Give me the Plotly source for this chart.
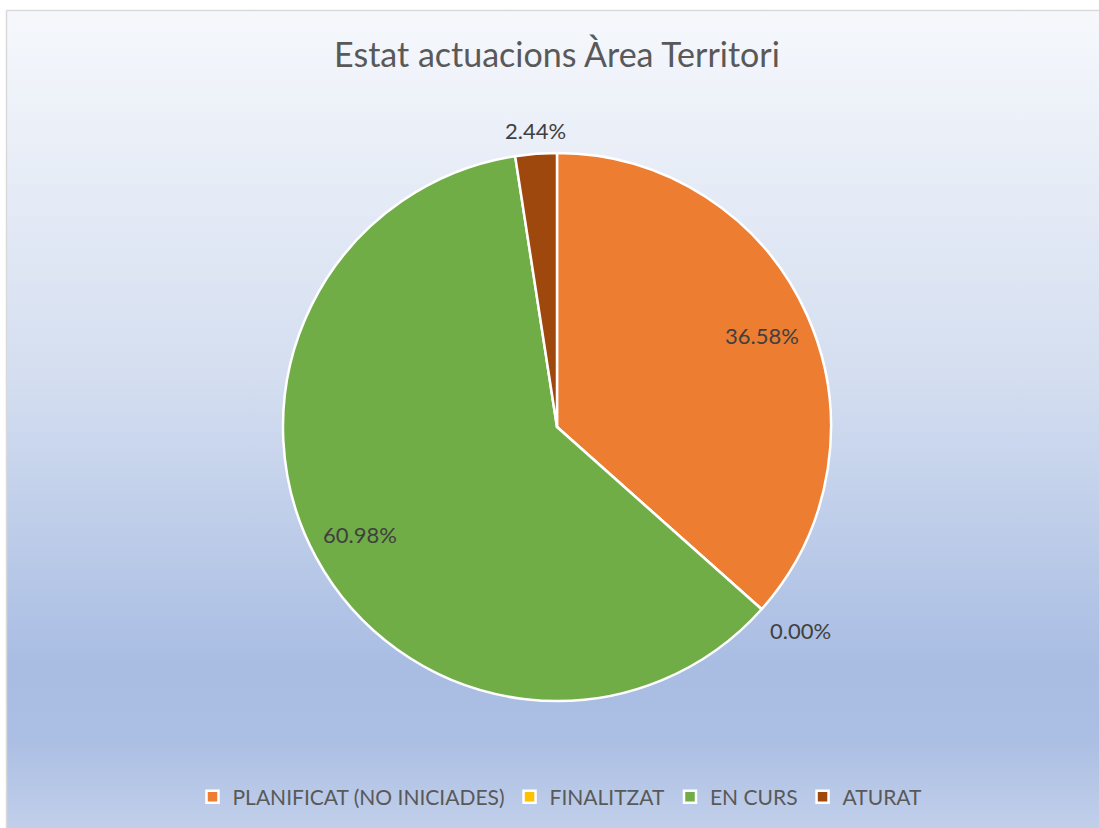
import base64
import numpy as np
import plotly.graph_objects as go

# ---- data ----
labels = ["PLANIFICAT (NO INICIADES)", "FINALITZAT", "EN CURS", "ATURAT"]
values = [36.58, 0.0, 60.98, 2.44]
colors = ["#ED7D31", "#FFC000", "#70AD47", "#9E480E"]
label_pos = ["inside", "outside", "inside", "outside"]
title_text = "Estat actuacions Àrea Territori"

W, H = 1099, 828
CX, CY, R = 557, 427, 274  # pie centre / radius in px
FONT = "Lato"

def px(x):
    return x / W

def py(y):
    return 1 - y / H

# gradient background (chart area)
svg = (
    "<svg xmlns='http://www.w3.org/2000/svg' width='1092' height='818' preserveAspectRatio='none'>"
    "<defs><linearGradient id='g' x1='0' y1='0' x2='0' y2='1'>"
    "<stop offset='0' stop-color='#f6f8fc'/>"
    "<stop offset='0.45' stop-color='#d4def0'/>"
    "<stop offset='0.80' stop-color='#a9bde3'/>"
    "<stop offset='0.89' stop-color='#abbee3'/>"
    "<stop offset='1' stop-color='#c1cfea'/>"
    "</linearGradient></defs>"
    "<rect width='100%' height='100%' fill='url(#g)'/></svg>"
)
src = "data:image/svg+xml;base64," + base64.b64encode(svg.encode()).decode()

fig = go.Figure()
fig.add_trace(go.Pie(
    labels=labels, values=values, sort=False, direction="clockwise", rotation=0,
    marker=dict(colors=colors, line=dict(color="white", width=2.5)),
    textinfo="none", hoverinfo="label+percent",
    domain=dict(x=[px(CX - R), px(CX + R)], y=[py(CY + R), py(CY - R)]),
    showlegend=True,
))

# data labels computed from values
total = float(np.sum(values))
cum = np.cumsum([0] + values[:-1])
annotations = []
for v, c, pos in zip(values, cum, label_pos):
    mid = 2 * np.pi * (c + v / 2) / total
    s, co = np.sin(mid), -np.cos(mid)
    txt = f"{100 * v / total:.2f}%"
    if pos == "inside":
        d = 0.82 * R
        annotations.append(dict(x=px(CX + d * s), y=py(CY + d * co), text=txt,
                                xanchor="center", yanchor="middle"))
    else:
        d = R + 8
        xa = "left" if s > 0.3 else ("right" if s < -0.3 else "center")
        ya = "top" if co > 0.3 else ("bottom" if co < -0.3 else "middle")
        annotations.append(dict(x=px(CX + d * s), y=py(CY + d * co), text=txt,
                                xanchor=xa, yanchor=ya))
for a in annotations:
    a.update(xref="paper", yref="paper", showarrow=False,
             font=dict(family=FONT, size=22, color="#404040"))

fig.update_layout(
    width=W, height=H,
    margin=dict(l=0, r=0, t=0, b=0),
    paper_bgcolor="white",
    plot_bgcolor="rgba(0,0,0,0)",
    title=dict(text=title_text, x=px(557), y=py(55), xanchor="center", yanchor="middle",
               xref="paper", yref="paper",
               font=dict(family=FONT, size=34, color="#595959")),
    images=[dict(source=src, xref="paper", yref="paper", x=px(7), y=py(10),
                 sizex=px(1092), sizey=1 - py(818), sizing="stretch",
                 xanchor="left", yanchor="top", layer="below")],
    shapes=[
        dict(type="line", xref="paper", yref="paper", x0=px(6.5), x1=1.0,
             y0=py(10.5), y1=py(10.5), line=dict(color="#d9d9d9", width=1.5)),
        dict(type="line", xref="paper", yref="paper", x0=px(6.5), x1=px(6.5),
             y0=py(10.5), y1=0.0, line=dict(color="#d9d9d9", width=1.5)),
    ],
    legend=dict(orientation="h", x=px(560), xanchor="center", y=py(797), yanchor="middle",
                font=dict(family=FONT, size=21, color="#595959"),
                bgcolor="rgba(0,0,0,0)", itemclick=False),
    annotations=annotations,
)

fig.write_html("out.html", config={"displayModeBar": False},
               post_script="document.body.style.margin='0';document.body.style.overflow='hidden';")
